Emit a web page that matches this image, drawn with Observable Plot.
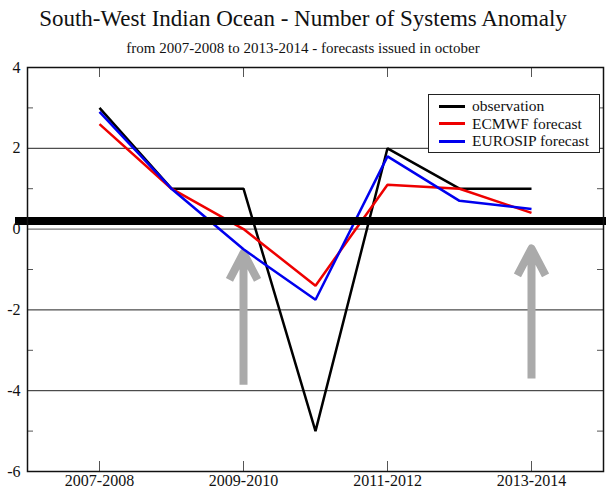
<!DOCTYPE html>
<html>
<head>
<meta charset="utf-8">
<script src="https://cdn.jsdelivr.net/npm/d3@7"></script>
<script src="https://cdn.jsdelivr.net/npm/@observablehq/plot@0.6"></script>
<style>
  html, body { margin: 0; padding: 0; background: #fff; }
  #wrap { position: relative; width: 606px; height: 492px; font-family: "Liberation Serif", "Times New Roman", Times, serif; color: #111; }
  #title { position: absolute; left: 0; width: 606px; top: 5px; text-align: center; font-size: 23px; line-height: 28px; }
  #subtitle { position: absolute; left: 0; width: 606px; top: 39px; text-align: center; font-size: 15px; line-height: 18px; }
  #chart { position: absolute; left: 0; top: 58px; }
  #legend { position: absolute; left: 428px; top: 94px; width: 172px; height: 59px; border: 1px solid #222; background: #fff; box-sizing: border-box; font-size: 15.5px; }
  .row { position: absolute; left: 10px; height: 17px; line-height: 17px; white-space: nowrap; }
  .sw { display: inline-block; width: 26px; height: 3px; vertical-align: middle; margin-right: 7px; position: relative; top: -1px; }
</style>
</head>
<body>
<div id="wrap">
  <div id="title">South-West Indian Ocean - Number of Systems Anomaly</div>
  <div id="subtitle">from 2007-2008 to 2013-2014 - forecasts issued in october</div>
  <div id="chart"></div>
  <div id="legend"></div>
</div>
<script>
// Seasons along the x axis (index 0..6)
const seasons = ["2007-2008", "2008-2009", "2009-2010", "2010-2011", "2011-2012", "2012-2013", "2013-2014"];
const labelledSeasons = [0, 2, 4, 6];

// Anomaly of the number of systems per season
const observation = [3, 1, 1, -5, 2, 1, 1];
const ecmwf = [2.6, 1, 0, -1.4, 1.1, 1.0, 0.4];
const eurosip = [2.9, 1, -0.5, -1.75, 1.8, 0.7, 0.5];

// Reference levels
const majorTicks = [4, 2, 0, -2, -4, -6];
const minorTicks = [3, 1, -1, -3, -5];
const gridLevels = [2, -2, -4];
const climatology = 0.2;

// Highlight arrows (season index, start, end)
const arrowSeason = [2, 6];
const arrowFrom = [-3.85, -3.7];
const arrowTo = [-0.59, -0.48];

const seriesNames = ["observation", "ECMWF forecast", "EUROSIP forecast"];
const seriesColors = ["#000000", "#ee0000", "#0000ee"];
const seriesValues = [observation, ecmwf, eurosip];

const rows = seriesNames.flatMap((name, k) =>
  seriesValues[k].map((v, i) => ({series: name, i, v}))
);
const arrows = arrowSeason.map((s, k) => ({s, from: arrowFrom[k], to: arrowTo[k]}));

const xMin = -1, xMax = 7, yMin = -6, yMax = 4;
const width = 606, height = 434;
const mL = 27, mR = 3, mT = 9, mB = 21;
const pxX = (xMax - xMin) / (width - mL - mR);
const pxY = (yMax - yMin) / (height - mT - mB);

const serif = "'Liberation Serif', 'Times New Roman', Times, serif";

const plot = Plot.plot({
  width, height,
  marginLeft: mL, marginRight: mR, marginTop: mT, marginBottom: mB,
  style: {fontFamily: serif, fontSize: "16px", color: "#111", background: "white"},
  x: {domain: [xMin, xMax], axis: null},
  y: {domain: [yMin, yMax], axis: null},
  color: {domain: seriesNames, range: seriesColors},
  marks: [
    Plot.ruleY(gridLevels, {stroke: "#222", strokeWidth: 1}),
    Plot.ruleY([0], {stroke: "#777", strokeWidth: 1.3}),
    // inward minor ticks on both sides
    Plot.ruleY(minorTicks, {x1: xMin, x2: xMin + 6 * pxX, stroke: "#555", strokeWidth: 1}),
    Plot.ruleY(minorTicks, {x1: xMax - 6 * pxX, x2: xMax, stroke: "#555", strokeWidth: 1}),
    // inward season ticks on top and bottom
    Plot.ruleX(labelledSeasons, {y1: yMin, y2: yMin + 10 * pxY, stroke: "#555", strokeWidth: 1}),
    Plot.ruleX(labelledSeasons, {y1: yMax, y2: yMax - 10 * pxY, stroke: "#555", strokeWidth: 1}),
    Plot.arrow(arrows, {
      x1: "s", x2: "s", y1: "from", y2: "to",
      stroke: "#aaaaaa", strokeWidth: 8, headLength: 5.7, headAngle: 55,
      strokeLinecap: "butt", strokeLinejoin: "round"
    }),
    Plot.line(rows, {x: "i", y: "v", z: "series", stroke: "series", strokeWidth: 2.5, strokeLinejoin: "miter", strokeLinecap: "butt"}),
    Plot.ruleY([climatology], {x1: xMin - 12 * pxX, x2: xMax + 3 * pxX, stroke: "black", strokeWidth: 8}),
    Plot.frame({stroke: "#111", strokeWidth: 1.5}),
    Plot.axisX({ticks: labelledSeasons, tickFormat: (i) => seasons[i], tickSize: 0, tickPadding: 3, fontSize: 16}),
    Plot.axisY({ticks: majorTicks, tickFormat: (d) => String(d), tickSize: 0, tickPadding: 7, fontSize: 16})
  ]
});
document.getElementById("chart").appendChild(plot);

// Legend
const legend = document.getElementById("legend");
seriesNames.forEach((name, k) => {
  const row = document.createElement("div");
  row.className = "row";
  row.style.top = (2 + k * 17.5) + "px";
  const sw = document.createElement("span");
  sw.className = "sw";
  sw.style.background = seriesColors[k];
  row.appendChild(sw);
  row.appendChild(document.createTextNode(name));
  legend.appendChild(row);
});
</script>
</body>
</html>
